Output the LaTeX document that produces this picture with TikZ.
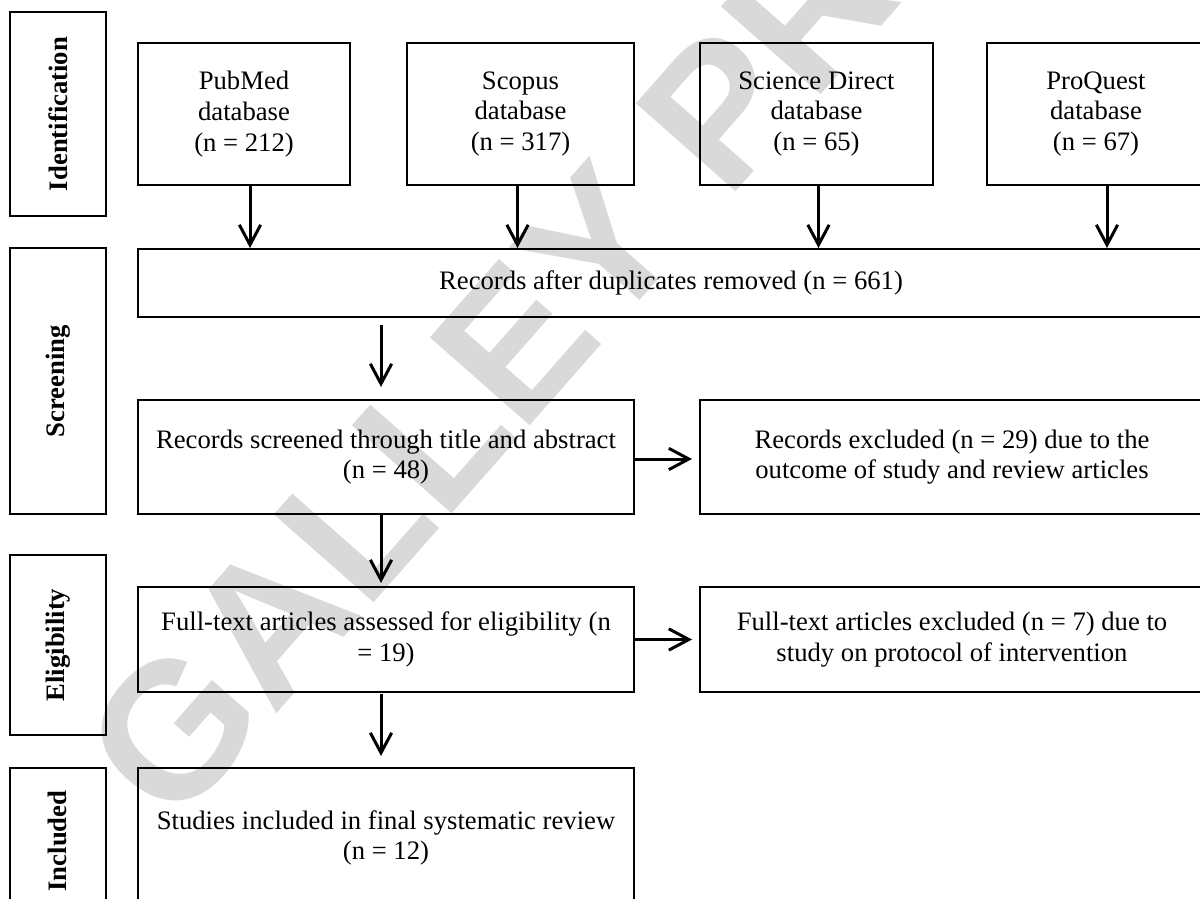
\documentclass[tikz,border=0pt]{standalone}
\usepackage{fontspec}
\setmainfont{Liberation Serif}
\newfontfamily\wmfont{Liberation Sans}
\usetikzlibrary{arrows.meta,calc}
\definecolor{wmgray}{RGB}{217,217,217}
\begin{document}
\begin{tikzpicture}[x=0.75pt,y=-0.75pt,
  box/.style={draw=black,line width=1.5pt,inner sep=0pt,align=center,anchor=center,font=\fontsize{20}{23}\selectfont},
  lab/.style={draw=black,line width=1.5pt,inner sep=0pt,anchor=center,minimum width=72.375pt},
  labtext/.style={rotate=90,inner sep=0pt,font=\fontsize{20}{23}\selectfont\bfseries},
  arr/.style={line width=2.25pt,-{Straight Barb[length=15pt,width=16pt]}},
]
\useasboundingbox (0,0) rectangle (1200,899);
% watermark
\node[text=wmgray,inner sep=0pt,rotate=48.6,font={\fontsize{145}{147}\selectfont\wmfont\bfseries}] (wm) at (628,214) {GALLEY PROOF};
% stage labels
\node[lab,minimum height=153pt] (lid) at (57.75,114) {};
\node[labtext] (lidt) at (lid.center) {Identification};
\node[lab,minimum height=199.5pt] (lsc) at (57.75,381) {};
\node[labtext] (lsct) at (lsc.center) {Screening};
\node[lab,minimum height=135pt] (lel) at (57.75,645) {};
\node[labtext] (lelt) at (lel.center) {Eligibility};
\node[lab,minimum height=109.5pt] (lin) at (57.75,841) {};
\node[labtext] (lint) at (lin.center) {Included};
% databases
\node[box,minimum width=159pt,minimum height=106.5pt] (pub) at (244,114) {PubMed\\database\\(n = 212)};
\node[box,minimum width=170.25pt,minimum height=106.5pt] (sco) at (520.5,114) {Scopus\\database\\(n = 317)};
\node[box,minimum width=174.75pt,minimum height=106.5pt] (sd) at (816.5,114) {Science Direct\\database\\(n = 65)};
\node[box,minimum width=163.5pt,minimum height=106.5pt] (pq) at (1096,114) {ProQuest\\database\\(n = 67)};
% flow
\node[box,minimum width=799.5pt,minimum height=51pt] (dup) at (671,283) {Records after duplicates removed (n = 661)};
\node[box,minimum width=372pt,minimum height=85.5pt] (scr) at (386,457) {Records screened through title and abstract\\(n = 48)};
\node[box,minimum width=378pt,minimum height=85.5pt] (ex1) at (952,457) {Records excluded (n = 29) due to the\\outcome of study and review articles};
\node[box,minimum width=372pt,minimum height=78.75pt] (ft) at (386,639.5) {Full-text articles assessed for eligibility (n\\= 19)};
\node[box,minimum width=378pt,minimum height=78.75pt] (ex2) at (952,639.5) {Full-text articles excluded (n = 7) due to\\study on protocol of intervention};
\node[box,minimum width=372pt,minimum height=105pt] (stu) at (386,838) {Studies included in final systematic review\\(n = 12)};
% arrows
\draw[arr] ($(pub.south)+(6,0)$) -- ($(pub.south |- dup.north)+(6,0)$);
\draw[arr] ($(sco.south)+(-3,0)$) -- ($(sco.south |- dup.north)+(-3,0)$);
\draw[arr] ($(sd.south)+(2,0)$) -- ($(sd.south |- dup.north)+(2,0)$);
\draw[arr] ($(pq.south)+(11,0)$) -- ($(pq.south |- dup.north)+(11,0)$);
\draw[arr] ($(dup.south -| scr.north)+(-5,7)$) -- ($(scr.north)+(-5,-12)$);
\draw[arr] ($(scr.south)+(-5,0)$) -- ($(ft.north)+(-5,-3)$);
\draw[arr] ($(ft.south)+(-5,1)$) -- ($(stu.north)+(-5,-11)$);
\draw[arr] ($(scr.east)+(0,2)$) -- ($(ex1.west)+(-7,2)$);
\draw[arr] (ft.east) -- ($(ex2.west)+(-7,0)$);
\end{tikzpicture}
\end{document}
